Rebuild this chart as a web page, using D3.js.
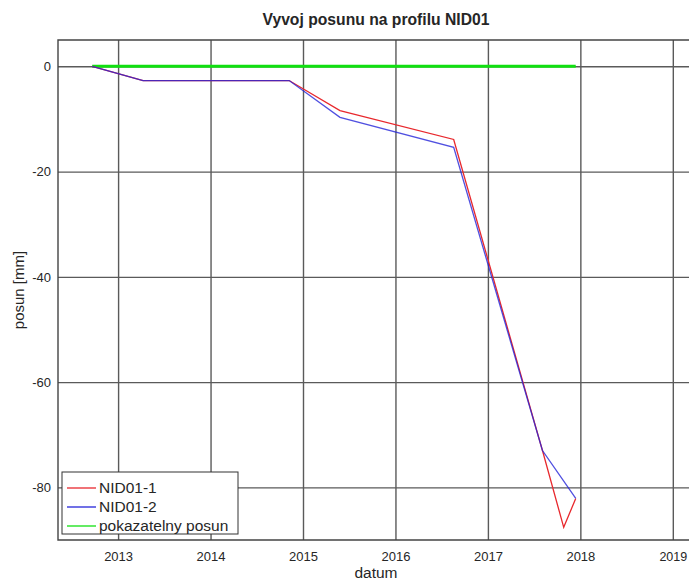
<!DOCTYPE html>
<html>
<head>
<meta charset="utf-8">
<script src="https://cdn.jsdelivr.net/npm/d3@7"></script>
<style>
  body { margin: 0; background: #fff; overflow: hidden; }
  text { font-family: "Liberation Sans", Arial, sans-serif; fill: #262626; }
</style>
</head>
<body>
<div id="chart-area"></div>
<script>
// data (decimal years, mm)
var dates1 = [2012.72, 2013.27, 2014.85, 2015.40, 2016.63, 2017.59, 2017.82, 2017.95];
var posun1 = [0, -2.7, -2.7, -8.4, -13.9, -73.0, -87.6, -82.1];
var dates2 = [2012.72, 2013.27, 2014.85, 2015.40, 2016.63, 2017.59, 2017.95];
var posun2 = [0, -2.7, -2.7, -9.7, -15.4, -73.0, -82.1];
var datesRef = [2012.72, 2017.95];
var posunRef = [0, 0];
var xTicks = [2013, 2014, 2015, 2016, 2017, 2018, 2019];
var yTicks = [0, -20, -40, -60, -80];
var seriesNames = ["NID01-1", "NID01-2", "pokazatelny posun"];

var width = 689;
var height = 583;
var margin = {top: 40, right: -6, bottom: 43, left: 58};
var innerWidth = width - margin.left - margin.right;
var innerHeight = height - margin.top - margin.bottom;
// the axes box runs past the window, only draw the visible part
var visibleWidth = width - margin.left;

const svg = d3.select("#chart-area")
  .append("svg")
    .attr("width", width)
    .attr("height", height)
    .style("display", "block");

const g = svg.append("g")
  .attr("transform", "translate(" + margin.left + ", " + margin.top + ")");

//Scales
var x = d3.scaleLinear()
  .domain([2012.35, 2019.24])
  .range([0, innerWidth]);

var y = d3.scaleLinear()
  .domain([-90, 5])
  .range([innerHeight, 0]);

//Axes with grid
var xAxisCall = d3.axisBottom(x)
  .tickValues(xTicks)
  .tickSize(-innerHeight)
  .tickPadding(12)
  .tickFormat(d => String(d));

var yAxisCall = d3.axisLeft(y)
  .tickValues(yTicks)
  .tickSize(-visibleWidth)
  .tickPadding(7)
  .tickFormat(d => String(d));

const xAxisGroup = g.append("g")
  .attr("transform", "translate(0, " + innerHeight + ")")
  .call(xAxisCall);

const yAxisGroup = g.append("g")
  .call(yAxisCall);

[xAxisGroup, yAxisGroup].forEach(ax => {
  ax.attr("font-size", 13)
    .attr("font-family", "'Liberation Sans', Arial, sans-serif");
  ax.select(".domain").remove();
  ax.selectAll(".tick line").attr("stroke", "#5a5a5a").attr("stroke-width", 1.4);
  ax.selectAll(".tick text").attr("fill", "#262626");
});

// last year label sits at the right edge, keep it inside the window
xAxisGroup.selectAll(".tick text")
  .filter(d => d === 2019)
  .attr("font-size", 12.5);

// box edges
g.append("path")
  .attr("d", `M${visibleWidth},0 H0 V${innerHeight} H${visibleWidth}`)
  .attr("fill", "none")
  .attr("stroke", "#444")
  .attr("stroke-width", 1.4);

//Lines
var line = d3.line()
  .x(d => x(d[0]))
  .y(d => y(d[1]));

g.append("path")
  .datum(d3.zip(datesRef, posunRef))
  .attr("fill", "none")
  .attr("stroke", "#10e010")
  .attr("stroke-width", 3)
  .attr("d", line);

g.append("path")
  .datum(d3.zip(dates1, posun1))
  .attr("fill", "none")
  .attr("stroke", "#e8282d")
  .attr("stroke-width", 1.3)
  .attr("d", line);

g.append("path")
  .datum(d3.zip(dates2, posun2))
  .attr("fill", "none")
  .attr("stroke", "#2424d8")
  .attr("stroke-width", 1.3)
  .attr("stroke-opacity", 0.8)
  .attr("d", line);

//Labels
svg.append("text")
  .attr("x", 376)
  .attr("y", 25)
  .attr("text-anchor", "middle")
  .attr("font-size", 15.7)
  .attr("font-weight", "bold")
  .text("Vyvoj posunu na profilu NID01");

svg.append("text")
  .attr("x", 376)
  .attr("y", 578)
  .attr("text-anchor", "middle")
  .attr("font-size", 15.5)
  .text("datum");

svg.append("text")
  .attr("transform", "translate(24, 290) rotate(-90)")
  .attr("text-anchor", "middle")
  .attr("font-size", 15)
  .text("posun [mm]");

//Legend
var legendColors = ["#e8282d", "#2424d8", "#10e010"];
const legend = svg.append("g")
  .attr("transform", "translate(62, 472)");

legend.append("rect")
  .attr("width", 176)
  .attr("height", 62)
  .attr("fill", "#fff")
  .attr("stroke", "#333")
  .attr("stroke-width", 1);

seriesNames.forEach((name, i) => {
  var ly = 16 + i * 19;
  legend.append("line")
    .attr("x1", 5).attr("x2", 34)
    .attr("y1", ly).attr("y2", ly)
    .attr("stroke", legendColors[i])
    .attr("stroke-width", 1.3);
  legend.append("text")
    .attr("x", 37)
    .attr("y", ly + 5)
    .attr("font-size", 15.5)
    .text(name);
});
</script>
</body>
</html>
